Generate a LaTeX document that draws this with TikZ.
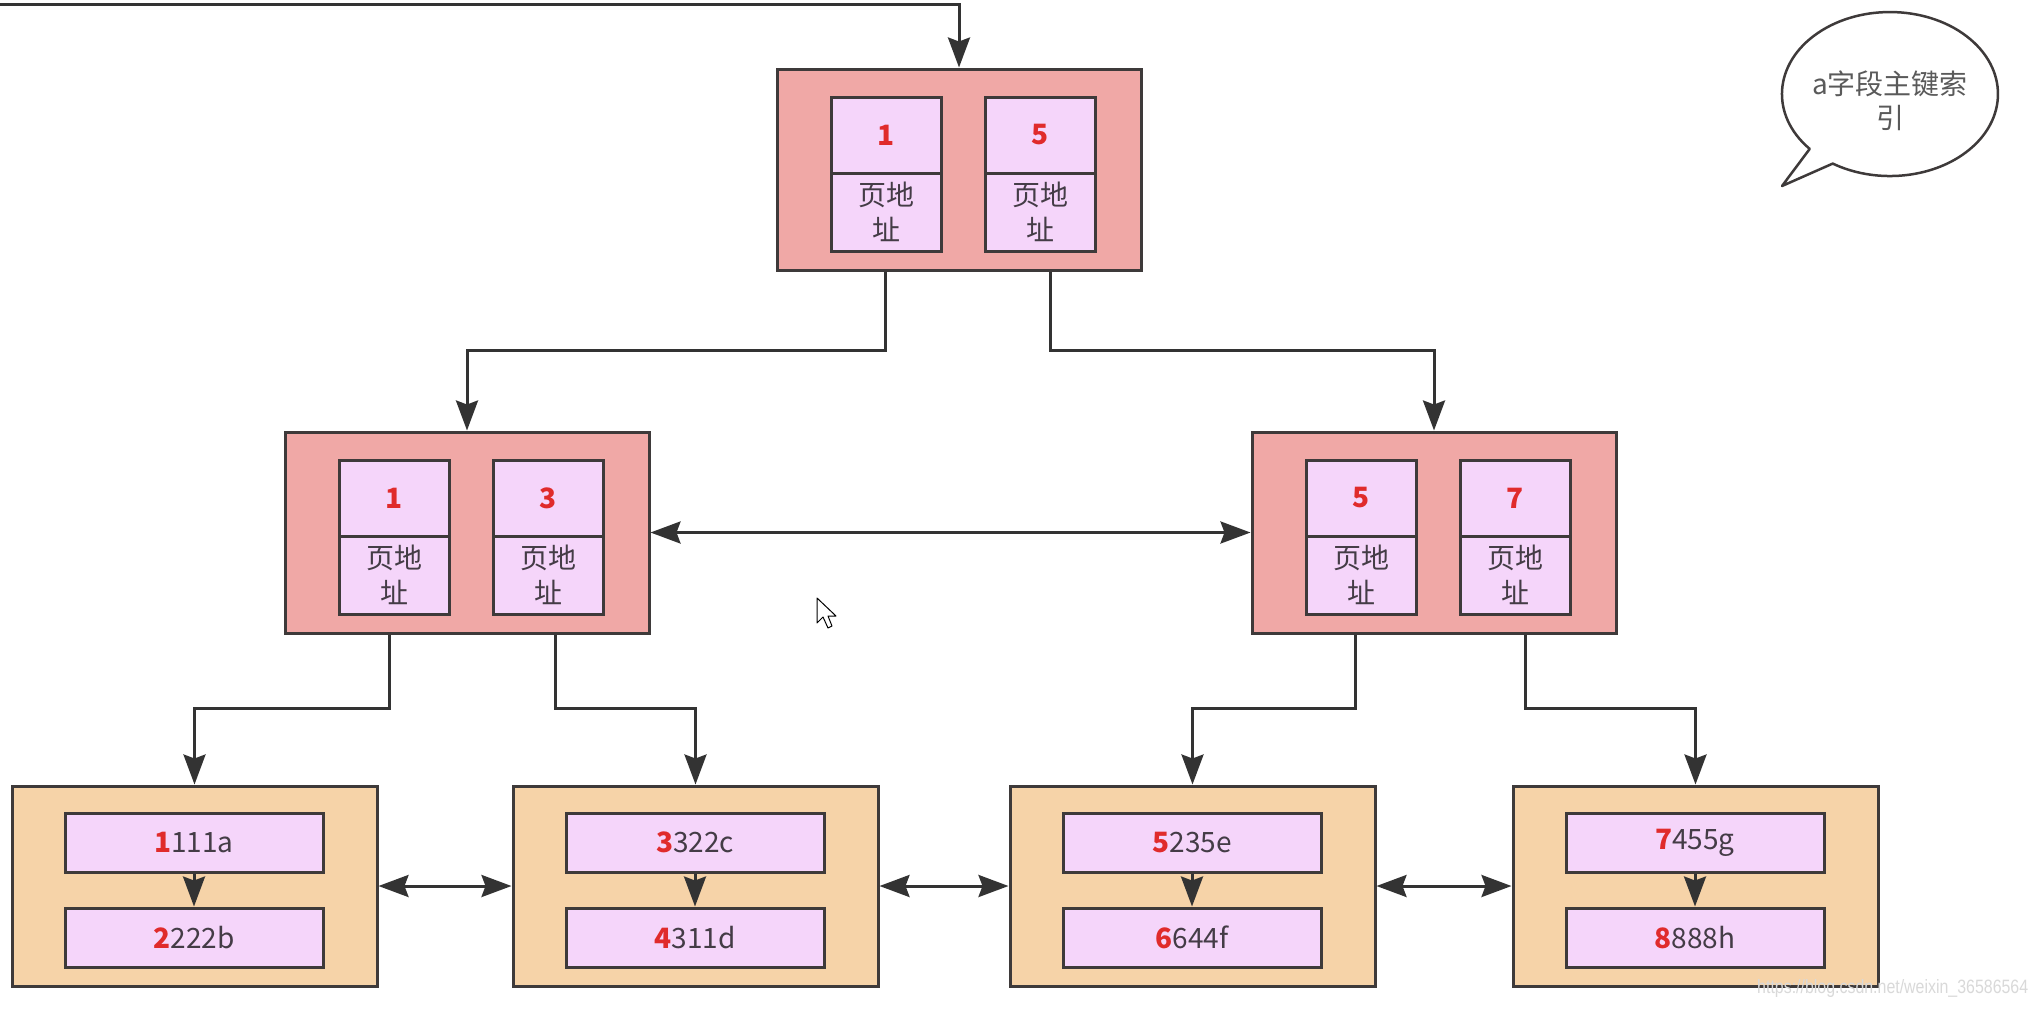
\documentclass[tikz,border=0pt]{standalone}
\usepackage{fontspec}
\setmainfont{Noto Sans CJK SC}
\newfontfamily\wmfont{Liberation Sans}
\usetikzlibrary{arrows.meta,calc}
\definecolor{pinkbox}{HTML}{F0A8A6}
\definecolor{cellfill}{HTML}{F5D5FA}
\definecolor{leaffill}{HTML}{F6D3A8}
\definecolor{edgecol}{HTML}{3E3A3A}
\definecolor{linecol}{HTML}{333333}
\definecolor{numred}{HTML}{E02B2B}
\definecolor{txtcol}{HTML}{443C46}
\definecolor{bubtxt}{HTML}{5A5A5A}

\newcommand\IdxPage[5]{%
  \node[outerpage] (#1) at (#2+182,#3+100.5) {};
  \node[keycell] (#1-k1) at (#2+109.5,#3+66) {#4};
  \node[addrcell] (#1-a1) at (#2+109.5,#3+143) {页地\\址};
  \node[keycell] (#1-k2) at (#2+263,#3+66) {#5};
  \node[addrcell] (#1-a2) at (#2+263,#3+143) {页地\\址};
}
\newcommand\LeafPage[6]{%
  \node[leafbox] (#1) at (#2+182.5,886) {};
  \node[rowcell] (#1-r1) at (#2+182,842.5) {\textcolor{numred}{\bfseries #3}#4};
  \node[rowcell] (#1-r2) at (#2+182,937.5) {\textcolor{numred}{\bfseries #5}#6};
  \draw[conn] (#1-r1) -- (#1-r2);
}

\begin{document}
\begin{tikzpicture}[x=1pt,y=-1pt,
  outerpage/.style={draw=edgecol, line width=3pt, fill=pinkbox, minimum width=364pt, minimum height=201pt, inner sep=0pt},
  leafbox/.style={draw=edgecol, line width=3pt, fill=leaffill, minimum width=365pt, minimum height=200pt, inner sep=0pt},
  keycell/.style={draw=edgecol, line width=3pt, fill=cellfill, minimum width=110pt, minimum height=76pt, inner sep=0pt, text=numred, font=\fontsize{28}{32}\selectfont\bfseries},
  addrcell/.style={draw=edgecol, line width=3pt, fill=cellfill, minimum width=110pt, minimum height=78pt, inner sep=0pt, align=center, text=txtcol, font=\fontsize{28}{35}\selectfont},
  rowcell/.style={draw=edgecol, line width=3pt, fill=cellfill, minimum width=258pt, minimum height=59pt, inner sep=0pt, text=txtcol, font=\fontsize{28}{32}\selectfont},
  conn/.style={draw=linecol, line width=3pt, -{Stealth[length=30pt,width=22pt,inset=4pt]}},
  dconn/.style={draw=linecol, line width=3pt, {Stealth[length=30pt,width=22pt,inset=4pt]}-{Stealth[length=30pt,width=22pt,inset=4pt]}},
]
\fill[white] (0,0) rectangle (2038,1010);
\useasboundingbox (0,0) rectangle (2038,1010);

% index pages
\IdxPage{top}{777}{69}{1}{5}
\IdxPage{midL}{285}{432}{1}{3}
\IdxPage{midR}{1252}{432}{5}{7}

% leaf pages
\LeafPage{leafA}{12}{1}{111a}{2}{222b}
\LeafPage{leafB}{513}{3}{322c}{4}{311d}
\LeafPage{leafC}{1010}{5}{235e}{6}{644f}
\LeafPage{leafD}{1513}{7}{455g}{8}{888h}

% helper coordinates
\coordinate (src) at (0,4);
\coordinate (lvA) at (0,350);
\coordinate (lvB) at (0,708);
\coordinate (top-x1) at ($(top.south west)!0.30!(top.south east)$);
\coordinate (top-x2) at ($(top.south west)!0.748!(top.south east)$);
\coordinate (midL-x1) at ($(midL.south west)!0.288!(midL.south east)$);
\coordinate (midL-x2) at ($(midL.south west)!0.74!(midL.south east)$);
\coordinate (midR-x1) at ($(midR.south west)!0.285!(midR.south east)$);
\coordinate (midR-x2) at ($(midR.south west)!0.748!(midR.south east)$);

% connectors
\draw[conn] (src) -| (top.north);
\draw[conn] (top-x1) |- (lvA -| midL.north) -- (midL.north);
\draw[conn] (top-x2) |- (lvA -| midR.north) -- (midR.north);
\draw[dconn] (midL.east) -- (midR.west);
\draw[conn] (midL-x1) |- (lvB -| leafA.north) -- (leafA.north);
\draw[conn] (midL-x2) |- (lvB -| leafB.north) -- (leafB.north);
\draw[conn] (midR-x1) |- (lvB -| leafC.north) -- (leafC.north);
\draw[conn] (midR-x2) |- (lvB -| leafD.north) -- (leafD.north);
\draw[dconn] (leafA.east) -- (leafB.west);
\draw[dconn] (leafB.east) -- (leafC.west);
\draw[dconn] (leafC.east) -- (leafD.west);

% speech bubble (centre 1890,94; radii 108 x 82)
\draw[draw=edgecol, line width=2.5pt, fill=white, line join=round]
  (1809.7,148.9) arc[start angle=138, end angle=482, x radius=108, y radius=82]
  -- (1782,186) -- cycle;
\node[align=center, text=bubtxt, font=\fontsize{28}{34}\selectfont] (bubble) at (1890,101) {a字段主键索\\引};

% mouse cursor
\draw[line width=1pt, fill=white, line join=round]
  (817,598) -- (817,623) -- (823,617) -- (828,628) -- (832,626) -- (828,616) -- (836,616) -- cycle;

% watermark
\node[anchor=south west, inner sep=0pt, text=gray!30, font=\wmfont\fontsize{20}{20}\selectfont] (wm) at (1757,998) {\resizebox{271pt}{14pt}{https://blog.csdn.net/weixin\_36586564}};
\end{tikzpicture}
\end{document}
